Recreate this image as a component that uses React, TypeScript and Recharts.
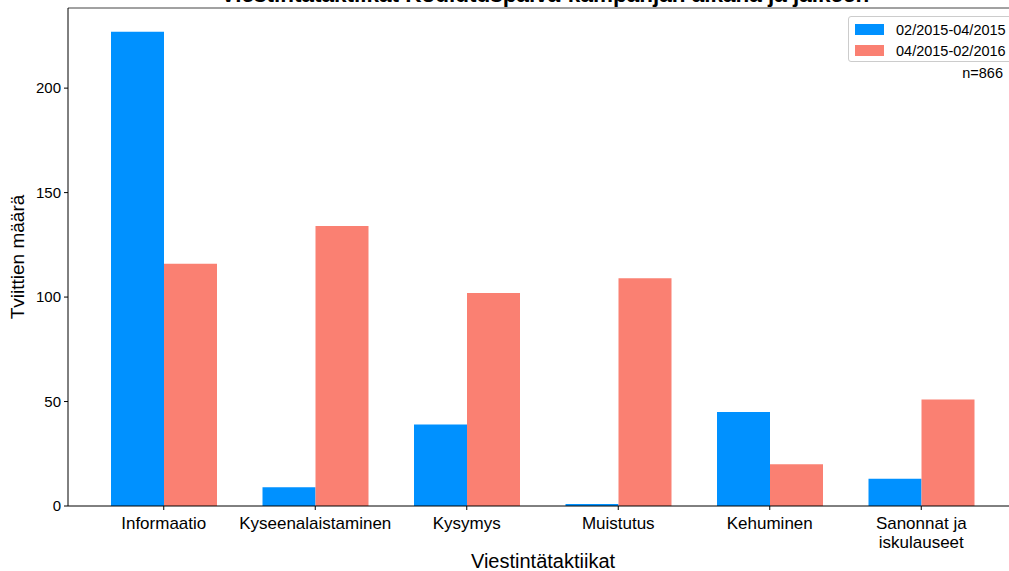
import { BarChart, Bar, XAxis, YAxis, ReferenceLine } from 'recharts';

const categories = ['Informaatio', 'Kyseenalaistaminen', 'Kysymys', 'Muistutus', 'Kehuminen', 'Sanonnat ja\niskulauseet'];
const period1 = [227, 9, 39, 1, 45, 13];
const period2 = [116, 134, 102, 109, 20, 51];
const yTicks = [0, 50, 100, 150, 200];
const seriesNames = ['02/2015-04/2015', '04/2015-02/2016'];

const COLORS = ['#0091ff', '#fa8072'];
const FONT = '"Liberation Sans", Arial, sans-serif';
const Y_MAX = Math.max(...period1, ...period2) * 1.05;

const rows = categories.map((c, i) => ({ name: c, p1: period1[i], p2: period2[i] }));

function CategoryTick(props: any) {
  const { x, y, payload } = props;
  const lines = String(payload.value).split('\n');
  return (
    <text x={x} y={y} textAnchor="middle" fontSize={17} fill="#000" fontFamily={FONT}>
      {lines.map((l, i) => (
        <tspan key={i} x={x} dy={i === 0 ? 17 : 19}>{l}</tspan>
      ))}
    </text>
  );
}

export default function App() {
  return (
    <div style={{ position: 'absolute', left: 0, top: 0, width: 1009, height: 571, overflow: 'hidden', background: '#fff', fontFamily: FONT }}>
      <BarChart
        width={1017}
        height={571}
        data={rows}
        margin={{ top: 8, right: 0, left: 8, bottom: 0 }}
        barGap={0}
        barSize={53}
      >
        <XAxis
          dataKey="name"
          interval={0}
          height={65}
          padding={{ left: 20, right: 20 }}
          tick={<CategoryTick />}
          tickSize={4}
          stroke="#000"
          tickLine={{ stroke: '#000' }}
          axisLine={{ stroke: '#000' }}
        />
        <YAxis
          width={60}
          domain={[0, Y_MAX]}
          ticks={yTicks}
          tickSize={4}
          tickMargin={3}
          allowDataOverflow
          tick={{ fontSize: 15, fill: '#000', fontFamily: FONT }}
          stroke="#000"
        />
        <ReferenceLine y={Y_MAX} stroke="#444" />
        <Bar dataKey="p1" name={seriesNames[0]} fill={COLORS[0]} isAnimationActive={false} />
        <Bar dataKey="p2" name={seriesNames[1]} fill={COLORS[1]} isAnimationActive={false} />
      </BarChart>

      <div style={{ position: 'absolute', left: 0, width: 1090, top: -18, textAlign: 'center', fontSize: 22.5, fontWeight: 'bold', whiteSpace: 'nowrap' }}>
        Viestintätaktiikat Koulutuspäivä-kampanjan aikana ja jälkeen
      </div>

      <div style={{ position: 'absolute', left: 7, top: 257, transform: 'translate(-50%, -50%) rotate(-90deg)', transformOrigin: 'center', fontSize: 19, whiteSpace: 'nowrap', marginLeft: 11 }}>
        Tviittien määrä
      </div>

      <div style={{ position: 'absolute', left: 0, width: 1086, top: 550, textAlign: 'center', fontSize: 20 }}>
        Viestintätaktiikat
      </div>

      <div style={{ position: 'absolute', left: 848, top: 16, width: 170, height: 44, border: '1px solid #ccc', borderRadius: 3, background: '#fff', fontSize: 14.5 }}>
        {seriesNames.map((s, i) => (
          <div key={s} style={{ display: 'flex', alignItems: 'center', height: 21, marginTop: i === 0 ? 2 : 0 }}>
            <span style={{ display: 'inline-block', width: 29, height: 11, background: COLORS[i], marginLeft: 6, marginRight: 12 }} />
            <span>{s}</span>
          </div>
        ))}
      </div>

      <div style={{ position: 'absolute', right: 6, top: 65, fontSize: 14.5 }}>n=866</div>
    </div>
  );
}
